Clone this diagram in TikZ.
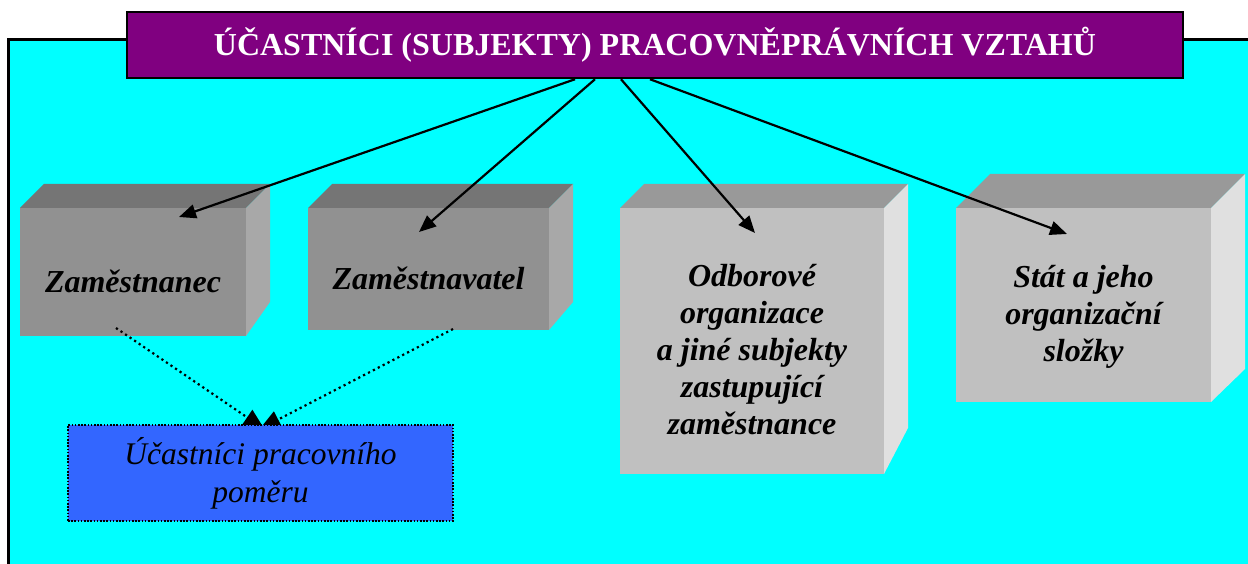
\documentclass[tikz,border=0pt]{standalone}
\usepackage{fontspec}
\setmainfont{Liberation Serif}
\usetikzlibrary{positioning}
\usetikzlibrary{arrows.meta}

\definecolor{headpurple}{RGB}{128,0,128}
\definecolor{bgcyan}{RGB}{0,255,255}
\definecolor{darkfront}{RGB}{145,145,145}
\definecolor{darktop}{RGB}{117,117,117}
\definecolor{darkside}{RGB}{168,168,168}
\definecolor{lightfront}{RGB}{192,192,192}
\definecolor{lighttop}{RGB}{153,153,153}
\definecolor{lightside}{RGB}{224,224,224}
\definecolor{relblue}{RGB}{51,102,255}

\pgfdeclarelayer{front}
\pgfsetlayers{main,front}

\begin{document}
\begin{tikzpicture}[
    x=1pt, y=-1pt,
    headbox/.style={
        draw,
        line width=2.5pt,
        fill=headpurple,
        text=white,
        minimum width=1056pt,
        minimum height=66pt,
        font=\fontsize{32}{38}\selectfont\bfseries
    },
    cube/.style={
        inner sep=0pt,
        outer sep=0pt
    },
    cubetext/.style={
        align=center,
        yshift=-9pt,
        font=\fontsize{32}{37}\selectfont\bfseries\itshape
    },
    relbox/.style={
        draw,
        dash pattern=on 1.6pt off 1.6pt,
        line width=1.6pt,
        fill=relblue,
        minimum width=385pt,
        minimum height=96pt,
        align=center,
        font=\fontsize{31.5}{38}\selectfont\itshape
    },
    arrow/.style={-{Triangle[length=17pt,width=14pt]}, line width=2.2pt},
    dotarrow/.style={-{Triangle[length=21pt,width=18pt]}, line width=2.2pt, dash pattern=on 2.2pt off 3.3pt}
]
\useasboundingbox (0,0) rectangle (1248,564);

% Background panel
\fill[bgcyan] (8,40) rectangle (1248,564);
\draw[line width=3pt] (8,564) -- (8,40) -- (1248,40);

% Main nodes
\node[headbox] (head) at (655,45) {ÚČASTNÍCI (SUBJEKTY) PRACOVNĚPRÁVNÍCH VZTAHŮ};

\node[cube, fill=darkfront, minimum width=226pt, minimum height=128pt, anchor=north west,
      label={[cubetext]center:Zaměstnanec}] (zam) at (20,208) {};
\node[cube, fill=darkfront, minimum width=241pt, minimum height=122pt, right=62pt of zam.north east, anchor=north west,
      label={[cubetext]center:Zaměstnavatel}] (zvl) {};
\node[cube, fill=lightfront, minimum width=264pt, minimum height=266pt, right=71pt of zvl.north east, anchor=north west,
      label={[cubetext]center:Odborové\\organizace\\a jiné subjekty\\zastupující\\zaměstnance}] (odb) {};
\node[cube, fill=lightfront, minimum width=255pt, minimum height=194pt, right=72pt of odb.north east, anchor=north west,
      label={[cubetext, yshift=-3pt]center:Stát a jeho\\organizační\\složky}] (stat) {};

\begin{pgfonlayer}{front}
\node[relbox] (ucp) at (260.5,473) {Účastníci pracovního\\poměru};
\end{pgfonlayer}

% Cube faces
\foreach \n/\d/\b/\t/\s in {zam/24/34/darktop/darkside, zvl/24/28/darktop/darkside, odb/24/46/lighttop/lightside, stat/34/33/lighttop/lightside} {
    \fill[\t] (\n.north west) -- ([shift={(\d,-\d)}]\n.north west) -- ([shift={(\d,-\d)}]\n.north east) -- (\n.north east) -- cycle;
    \fill[\s] (\n.north east) -- ([shift={(\d,-\d)}]\n.north east) -- ([shift={(\d,-\b)}]\n.south east) -- (\n.south east) -- cycle;
}

% Arrows
\draw[arrow] ([xshift=-80pt]head.south) -- ([shift={(46,9)}]zam.north);
\draw[arrow] ([xshift=-60pt]head.south) -- ([shift={(-9.5,24)}]zvl.north);
\draw[arrow] ([xshift=-34pt]head.south) -- ([shift={(3,25)}]odb.north);
\draw[arrow] ([xshift=-5pt]head.south) -- ([shift={(-16.5,26)}]stat.north);

\draw[dotarrow] ([shift={(-17,-8)}]zam.south) -- ([shift={(4,5)}]ucp.north);
\draw[dotarrow] ([shift={(24.5,-1)}]zvl.south) -- ([shift={(-1,5)}]ucp.north);

\end{tikzpicture}
\end{document}
